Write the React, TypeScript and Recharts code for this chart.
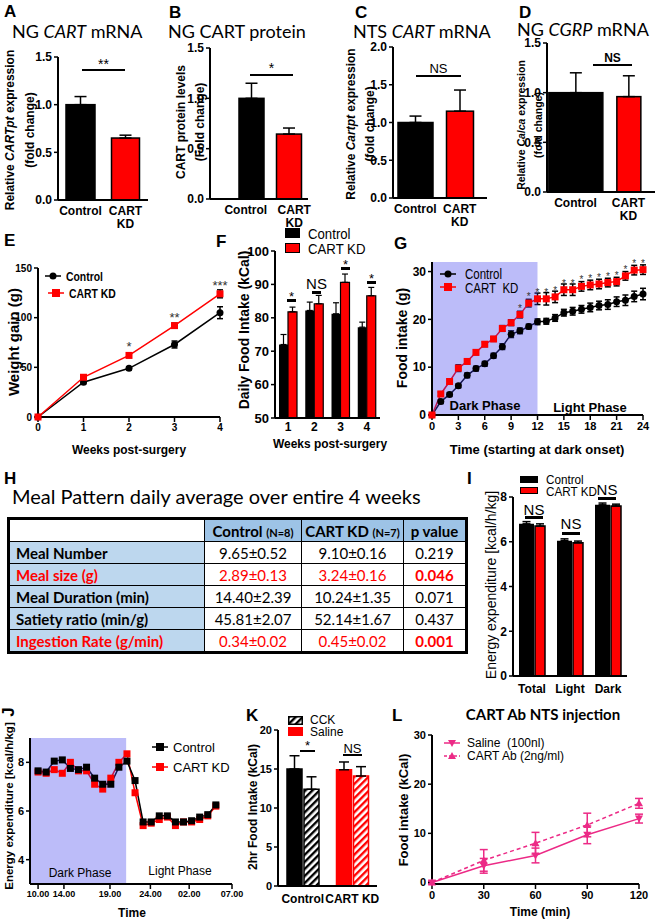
import React from "react";
import {
  BarChart,
  Bar,
  LineChart,
  Line,
  XAxis,
  YAxis,
  ErrorBar,
  Cell,
  ReferenceArea,
  LabelList,
} from "recharts";

const FONT = '"Liberation Sans", Arial, sans-serif';
const TF = 'Lato, "Open Sans", sans-serif';
const RED = "#ff0000";
const PINK = "#ec2a86";

// A-D: fold change
const abCats = ["Control", "CART KD"];
const aMean = [1.0, 0.65];
const aErr = [0.085, 0.03];
const bMean = [1.0, 0.645];
const bErr = [0.15, 0.06];
const cMean = [1.0, 1.15];
const cErr = [0.085, 0.28];
const dMean = [1.0, 0.96];
const dErr = [0.2, 0.21];
const barFills = ["#000000", RED];
const ticks15 = [0, 0.5, 1, 1.5];
const ticks20 = [0, 0.5, 1, 1.5, 2];

// E: weight gain
const eWeeks = [0, 1, 2, 3, 4];
const eCtrl = [0, 35, 49, 73, 105];
const eCtrlErr = [0, 1.5, 1.5, 3.5, 6];
const eKd = [0, 40, 62, 92, 124];
const eKdErr = [0, 1.5, 2, 2.5, 4];
const eStars = ["", "", "*", "**", "***"];

// F: daily food intake
const fWeeks = ["1", "2", "3", "4"];
const fCtrl = [72, 82.2, 81.2, 77.2];
const fCtrlErr = [3, 2.5, 3.3, 1.5];
const fKd = [81.8, 84.2, 90.6, 86.6];
const fKdErr = [1.4, 2.5, 2.5, 2.5];

// G: cumulative food intake
const gHours = [0, 1, 2, 3, 4, 5, 6, 7, 8, 9, 10, 11, 12, 13, 14, 15, 16, 17, 18, 19, 20, 21, 22, 23, 24];
const gCtrl = [0, 2.8, 4.3, 6.1, 8.3, 9.7, 10.7, 12.4, 14.3, 16.9, 17.6, 18.5, 19.5, 19.6, 20.3, 21.4, 21.7, 22.1, 22.5, 22.9, 23.1, 23.7, 24.0, 24.8, 25.3];
const gCtrlErr = [0, 0.4, 0.4, 0.4, 0.5, 0.5, 0.5, 0.5, 0.6, 0.7, 0.6, 0.5, 0.6, 0.6, 0.7, 0.7, 0.8, 0.8, 0.9, 0.9, 1.0, 1.0, 1.1, 1.1, 1.2];
const gKd = [0, 4.4, 7.0, 9.8, 11.2, 13.1, 14.8, 15.9, 18.1, 19.3, 21.0, 23.4, 24.3, 24.3, 24.7, 26.2, 26.2, 26.9, 27.2, 27.4, 27.7, 27.9, 29.1, 30.3, 30.4];
const gKdErr = [0, 0.4, 0.5, 0.7, 0.5, 0.5, 0.5, 0.5, 0.6, 0.6, 0.7, 0.8, 1.2, 1.3, 1.2, 1.2, 1.2, 1.0, 1.0, 1.0, 0.9, 0.9, 0.9, 1.0, 1.0];
const gStars = ["", "", "", "", "", "", "", "", "", "", "*", "*", "*", "*", "*", "*", "*", "*", "*", "*", "*", "*", "*", "*", "*"];
const gTicks = [0, 3, 6, 9, 12, 15, 18, 21, 24];

// H: meal pattern table
const hRows = ["Meal Number", "Meal size (g)", "Meal Duration (min)", "Satiety ratio (min/g)", "Ingestion Rate (g/min)"];
const hCtrl = ["9.65±0.52", "2.89±0.13", "14.40±2.39", "45.81±2.07", "0.34±0.02"];
const hKd = ["9.10±0.16", "3.24±0.16", "10.24±1.35", "52.14±1.67", "0.45±0.02"];
const hP = ["0.219", "0.046", "0.071", "0.437", "0.001"];
const hSig = [false, true, false, false, true];

// I: energy expenditure
const iCats = ["Total", "Light", "Dark"];
const iCtrl = [6.8, 6.05, 7.65];
const iKd = [6.7, 5.95, 7.6];
const iErr = [0.1, 0.08, 0.08];

// J: energy expenditure time course
const jIdx = [0, 1, 2, 3, 4, 5, 6, 7, 8, 9, 10, 11, 12, 13, 14, 15, 16, 17, 18, 19, 20, 21, 22];
const jCtrl = [7.65, 7.6, 8.05, 8.1, 7.75, 7.7, 7.8, 7.35, 7.1, 7.1, 7.8, 8.05, 7.25, 5.55, 5.55, 5.8, 5.8, 5.55, 5.55, 5.6, 5.75, 5.85, 6.25];
const jKd = [7.6, 7.55, 7.7, 7.55, 8.0, 7.65, 7.65, 7.1, 6.9, 7.35, 8.0, 8.35, 6.75, 5.4, 5.5, 5.65, 5.75, 5.4, 5.55, 5.55, 5.65, 5.8, 6.2];
const jTicks = [0, 3.2, 8.9, 13.9, 18.7, 24];
const jTickLabels = ["10.00", "14.00", "19.00", "24.00", "02.00", "07.00"];

// K: 2hr food intake
const kCats = ["Control", "CART KD"];
const kSaline = [15.0, 14.9];
const kSalineErr = [1.7, 1.0];
const kCck = [12.4, 14.1];
const kCckErr = [1.6, 1.2];

// L: CART Ab injection
const lTime = [0, 30, 60, 90, 120];
const lSaline = [0, 3.4, 5.5, 9.7, 13.0];
const lSalineErr = [0.3, 1.5, 1.5, 1.8, 0.9];
const lAb = [0, 4.5, 8.0, 11.7, 16.1];
const lAbErr = [0.3, 2.2, 2.2, 2.4, 1.0];

const AX = { stroke: "#000", strokeWidth: 2 };
const TL = { stroke: "#000", strokeWidth: 1.5 };
const tk = (s: number) => ({ fontSize: s, fontWeight: 700, fill: "#000", fontFamily: FONT });

const frame = (ax: number, yTop: number, yBot: number, xRight: number, yW: number, xH: number, rp = 10) => {
  const pad = 10;
  return {
    style: { position: "absolute" as const, left: ax - yW, top: yTop - pad },
    width: xRight - ax + yW + rp,
    height: yBot - yTop + pad + xH,
    margin: { top: pad, right: rp, left: 0, bottom: 0 },
    yW,
    xH,
  };
};

const T = ({ x, y, s = 12, b = false, a = "l", c = "#000", f = FONT, sx = 1, st = {}, children }: any) => (
  <div
    style={{
      position: "absolute",
      left: x,
      top: y,
      fontSize: s,
      fontWeight: b ? 700 : 400,
      color: c,
      fontFamily: f,
      lineHeight: 1,
      whiteSpace: "nowrap",
      transformOrigin: a === "l" ? "left center" : "center center",
      transform: `translate(${a === "l" ? "0" : a === "c" ? "-50%" : "-100%"}, -50%) scaleX(${sx})`,
      ...st,
    }}
  >
    {children}
  </div>
);

const V = ({ x, y, s = 12, b = true, lh = 1.1, f = FONT, st = {}, children }: any) => (
  <div
    style={{
      position: "absolute",
      left: x,
      top: y,
      fontSize: s,
      fontWeight: b ? 700 : 400,
      fontFamily: f,
      lineHeight: lh,
      whiteSpace: "nowrap",
      textAlign: "center",
      transform: "translate(-50%, -50%) rotate(-90deg)",
      ...st,
    }}
  >
    {children}
  </div>
);

const Sig = ({ x1, x2, y, ty, text, s = 13, b = false, w = 2 }: any) => (
  <>
    <div style={{ position: "absolute", left: x1, top: y - w / 2, width: x2 - x1, height: w, background: "#000" }} />
    <T x={(x1 + x2) / 2} y={ty} s={s} b={b} a="c">
      {text}
    </T>
  </>
);

const SplitTick = (props: any) => {
  const { x, y, payload, index, shifts } = props;
  const words = String(payload.value).split(" ");
  const cx = x + (shifts ? shifts[index] : 0);
  return (
    <text x={cx} y={y} textAnchor="middle" fontSize={12} fontWeight={700} fontFamily={FONT} fill="#000">
      {words.map((w, i) => (
        <tspan key={i} x={cx} dy={i === 0 ? "0.6em" : "1.05em"}>
          {w}
        </tspan>
      ))}
    </text>
  );
};

const sq = (fill: string, s: number) => (p: any) => (
  <rect key={`s${p.index}`} x={p.cx - s / 2} y={p.cy - s / 2} width={s} height={s} fill={fill} />
);
const circ = (fill: string, r: number) => (p: any) => (
  <circle key={`c${p.index}`} cx={p.cx} cy={p.cy} r={r} fill={fill} />
);
const triUp = (fill: string) => (p: any) => (
  <path key={`u${p.index}`} d={`M${p.cx - 4},${p.cy + 3} L${p.cx + 4},${p.cy + 3} L${p.cx},${p.cy - 4} Z`} fill={fill} />
);
const triDown = (fill: string) => (p: any) => (
  <path key={`d${p.index}`} d={`M${p.cx - 4},${p.cy - 3} L${p.cx + 4},${p.cy - 3} L${p.cx},${p.cy + 4} Z`} fill={fill} />
);

function FoldBar({ fr, mean, err, max, ticks, widths, shifts, pl = 0, pr = 0 }: any) {
  const data = abCats.map((name, i) => ({ name, v: mean[i], e: [0, err[i]] }));
  const barShape = (p: any) => {
    const w = widths[p.index];
    return (
      <rect
        x={p.x + (p.width - w) / 2}
        y={p.y}
        width={w}
        height={p.height}
        fill={barFills[p.index]}
        stroke="#000"
        strokeWidth={1.5}
      />
    );
  };
  return (
    <div style={fr.style}>
      <BarChart width={fr.width} height={fr.height} margin={fr.margin} data={data}>
        <XAxis
          dataKey="name"
          tickLine={false}
          axisLine={AX}
          tick={<SplitTick shifts={shifts} />}
          height={fr.xH}
          padding={{ left: pl, right: pr }}
          interval={0}
        />
        <YAxis
          type="number"
          domain={[0, max]}
          ticks={ticks}
          width={fr.yW}
          axisLine={AX}
          tickLine={TL}
          tickSize={4}
          tick={tk(12)}
          tickFormatter={(v: number) => v.toFixed(1)}
        />
        <Bar dataKey="v" barSize={Math.max(...widths)} shape={barShape} isAnimationActive={false}>
          {data.map((d, i) => (
            <Cell key={d.name} fill={barFills[i]} />
          ))}
          <ErrorBar dataKey="e" width={6} stroke="#000" strokeWidth={1.5} />
        </Bar>
      </BarChart>
    </div>
  );
}

const LegendLine = ({ x, y, color, marker, dashed = false }: any) => (
  <svg style={{ position: "absolute", left: x, top: y - 6 }} width={18} height={12}>
    <line x1={1} y1={6} x2={17} y2={6} stroke={color} strokeWidth={1.5} strokeDasharray={dashed ? "3 2" : undefined} />
    {marker === "circle" && <circle cx={9} cy={6} r={3.5} fill={color} />}
    {marker === "square" && <rect x={5} y={2} width={8} height={8} fill={color} />}
    {marker === "up" && <path d="M5,9 L13,9 L9,2 Z" fill={color} />}
    {marker === "down" && <path d="M5,3 L13,3 L9,10 Z" fill={color} />}
  </svg>
);

const Box = ({ x, y, w, h, fill, stroke = "#000" }: any) => (
  <div style={{ position: "absolute", left: x, top: y, width: w, height: h, background: fill, border: `1.5px solid ${stroke}`, boxSizing: "border-box" }} />
);

export default function App() {
  const frA = frame(58, 57, 200, 148, 30, 36);
  const frB = frame(210, 48, 199, 308, 30, 36);
  const frC = frame(393, 47, 198, 487, 30, 36);
  const frD = frame(547, 43, 192, 655, 30, 36, 5);
  const frE = frame(38, 268, 417, 220, 28, 28);
  const frF = frame(275, 251, 418, 380, 32, 24);
  const frG = frame(432, 262, 415, 643, 26, 28);
  const frI = frame(513, 497, 676, 627, 22, 28);
  const frJ = frame(30, 738, 884, 232, 20, 26, 20);
  const frK = frame(278, 730, 886, 377, 24, 28);
  const frL = frame(432, 735, 884, 639, 26, 26);

  const eData = eWeeks.map((w, i) => ({ w, ctrl: eCtrl[i], ce: eCtrlErr[i], kd: eKd[i], ke: eKdErr[i], star: eStars[i] }));
  const fData = fWeeks.map((w, i) => ({ w, ctrl: fCtrl[i], ce: [0, fCtrlErr[i]], kd: fKd[i], ke: [0, fKdErr[i]] }));
  const gData = gHours.map((h, i) => ({ h, ctrl: gCtrl[i], ce: gCtrlErr[i], kd: gKd[i], ke: gKdErr[i], star: gStars[i] }));
  const iData = iCats.map((c, i) => ({ c, ctrl: iCtrl[i], kd: iKd[i], ce: [0, iErr[i]], ke: [0, iErr[i]] }));
  const jData = jIdx.map((t, i) => ({ t, ctrl: jCtrl[i], kd: jKd[i] }));
  const kData = kCats.map((c, i) => ({ c, sal: kSaline[i], se: [0, kSalineErr[i]], cck: kCck[i], ke: [0, kCckErr[i]] }));
  const lData = lTime.map((t, i) => ({ t, sal: lSaline[i], se: lSalineErr[i], ab: lAb[i], ae: lAbErr[i] }));

  const cell: React.CSSProperties = { border: "1.5px solid #000", height: 21, padding: "0 6px", whiteSpace: "nowrap" };

  return (
    <div style={{ position: "absolute", left: 0, top: 0, width: 660, height: 923, overflow: "hidden", background: "#fff", fontFamily: FONT }}>
      <svg width={0} height={0} style={{ position: "absolute" }}>
        <defs>
          <pattern id="hatchK" width="5" height="5" patternUnits="userSpaceOnUse" patternTransform="rotate(45)">
            <rect width="5" height="5" fill="#fff" />
            <rect width="2.4" height="5" fill="#000" />
          </pattern>
          <pattern id="hatchR" width="5" height="5" patternUnits="userSpaceOnUse" patternTransform="rotate(45)">
            <rect width="5" height="5" fill="#fff" />
            <rect width="2.4" height="5" fill={RED} />
          </pattern>
        </defs>
      </svg>

      {/* panel letters */}
      <T x={4} y={11} s={17} b>A</T>
      <T x={169} y={12} s={17} b>B</T>
      <T x={355} y={12} s={17} b>C</T>
      <T x={519} y={12} s={17} b>D</T>
      <T x={4} y={240} s={17} b>E</T>
      <T x={216} y={241} s={17} b>F</T>
      <T x={394} y={243} s={17} b>G</T>
      <T x={4} y={478} s={17} b>H</T>
      <T x={467} y={478} s={17} b>I</T>
      <V x={9} y={712} s={17}>J</V>
      <T x={246} y={715} s={17} b>K</T>
      <T x={392} y={715} s={17} b>L</T>

      {/* A-D */}
      <T x={12} y={31} s={18} f={TF}>NG <i>CART</i> mRNA</T>
      <T x={168} y={31} s={18} f={TF}>NG CART protein</T>
      <T x={353} y={31} s={18} f={TF}>NTS <i>CART</i> mRNA</T>
      <T x={517} y={29} s={18} f={TF}>NG <i>CGRP</i> mRNA</T>

      <V x={20} y={130} s={12} lh="20px">
        Relative <i>CARTpt</i> expression
        <br />
        (fold change)
      </V>
      <V x={191} y={122} s={12} lh="19px">
        CART protein levels
        <br />
        (Fold change)
      </V>
      <V x={361} y={124} s={12} lh="19px">
        Relative <i>Cartpt</i> expression
        <br />
        (fold change)
      </V>
      <V x={530} y={125} s={10.5} lh="17px">
        Relative <i>Calca</i> expression
        <br />
        (fold change)
      </V>

      <FoldBar fr={frA} mean={aMean} err={aErr} max={1.5} ticks={ticks15} widths={[29, 28]} />
      <FoldBar fr={frB} mean={bMean} err={bErr} max={1.5} ticks={ticks15} widths={[25, 25]} shifts={[-6, 5]} pl={23} />
      <FoldBar fr={frC} mean={cMean} err={cErr} max={2} ticks={ticks20} widths={[35, 27]} pr={5} />
      <FoldBar fr={frD} mean={dMean} err={dErr} max={1.5} ticks={ticks15} widths={[54, 24]} pl={2} />

      <Sig x1={82} x2={125} y={70} ty={64} text="**" s={14} />
      <Sig x1={250} x2={293} y={75} ty={68} text="*" s={14} />
      <Sig x1={416} x2={461} y={76} ty={68} text="NS" s={13} />
      <Sig x1={593} x2={632} y={65} ty={58} text="NS" s={12} b />

      {/* E */}
      <V x={14} y={342} s={15}>Weight gain (g)</V>
      <div style={frE.style}>
        <LineChart width={frE.width} height={frE.height} margin={frE.margin} data={eData}>
          <XAxis dataKey="w" type="number" domain={[0, 4]} ticks={eWeeks} axisLine={AX} tickLine={TL} tickSize={5} tick={tk(10)} height={frE.xH} />
          <YAxis type="number" domain={[0, 150]} ticks={[0, 50, 100, 150]} width={frE.yW} axisLine={AX} tickLine={TL} tickSize={4} tick={tk(10)} />
          <Line dataKey="ctrl" stroke="#000" strokeWidth={1.5} dot={circ("#000", 3.5)} activeDot={false} isAnimationActive={false}>
            <ErrorBar dataKey="ce" width={3} stroke="#000" strokeWidth={1.5} />
          </Line>
          <Line dataKey="kd" stroke={RED} strokeWidth={1.5} dot={sq(RED, 7)} activeDot={false} isAnimationActive={false}>
            <ErrorBar dataKey="ke" width={3} stroke="#000" strokeWidth={1.5} />
            <LabelList dataKey="star" position="top" offset={4} style={{ fontSize: 13, fill: "#333", fontFamily: FONT }} />
          </Line>
        </LineChart>
      </div>
      <LegendLine x={44} y={276} color="#000" marker="circle" />
      <T x={66} y={276} s={13} b sx={0.8}>Control</T>
      <LegendLine x={47} y={293} color={RED} marker="square" />
      <T x={69} y={293} s={13} b sx={0.8}>CART KD</T>
      <T x={129} y={449} s={13} b a="c" sx={0.92}>Weeks post-surgery</T>

      {/* F */}
      <V x={245} y={330} s={14}>Daily Food Intake (kCal)</V>
      <div style={frF.style}>
        <BarChart width={frF.width} height={frF.height} margin={frF.margin} data={fData} barGap={0}>
          <XAxis dataKey="w" tickLine={false} tickSize={2} axisLine={AX} tick={tk(12)} height={frF.xH} interval={0} />
          <YAxis type="number" domain={[50, 100]} ticks={[50, 60, 70, 80, 90, 100]} width={frF.yW} axisLine={AX} tickLine={TL} tickSize={4} tick={tk(13)} />
          <Bar dataKey="ctrl" fill="#000" barSize={9} isAnimationActive={false}>
            <ErrorBar dataKey="ce" width={3} stroke="#000" strokeWidth={1.2} />
          </Bar>
          <Bar dataKey="kd" fill={RED} stroke="#000" strokeWidth={1.2} barSize={9} isAnimationActive={false}>
            <ErrorBar dataKey="ke" width={3} stroke="#000" strokeWidth={1.2} />
          </Bar>
        </BarChart>
      </div>
      <Box x={285} y={228} w={15} h={10} fill="#000" />
      <T x={308} y={233} s={15} sx={0.88}>Control</T>
      <Box x={285} y={243} w={15} h={10} fill={RED} />
      <T x={308} y={248} s={15} sx={0.88}>CART KD</T>
      <Sig x1={287} x2={296} y={300} ty={296} text="*" s={13} w={3} />
      <Sig x1={312} x2={321} y={292} ty={283} text="NS" s={15} w={3} />
      <Sig x1={341} x2={350} y={268} ty={264} text="*" s={13} w={3} />
      <Sig x1={367} x2={376} y={282} ty={278} text="*" s={13} w={3} />
      <T x={330} y={443} s={13} b a="c" sx={0.92}>Weeks post-surgery</T>

      {/* G */}
      <V x={403} y={338} s={14}>Food intake (g)</V>
      <div style={frG.style}>
        <LineChart width={frG.width} height={frG.height} margin={frG.margin} data={gData}>
          <XAxis dataKey="h" type="number" domain={[0, 24]} ticks={gTicks} axisLine={AX} tickLine={TL} tickSize={5} tick={tk(11)} height={frG.xH} />
          <YAxis type="number" domain={[0, 32]} ticks={[0, 10, 20, 30]} width={frG.yW} axisLine={AX} tickLine={TL} tickSize={4} tick={tk(12)} />
          <Line dataKey="ctrl" stroke="#000" strokeWidth={1.5} dot={circ("#000", 3.5)} activeDot={false} isAnimationActive={false}>
            <ErrorBar dataKey="ce" width={3} stroke="#000" strokeWidth={1.5} />
          </Line>
          <Line dataKey="kd" stroke={RED} strokeWidth={1.5} dot={sq(RED, 7)} activeDot={false} isAnimationActive={false}>
            <ErrorBar dataKey="ke" width={3} stroke="#000" strokeWidth={1.5} />
            <LabelList dataKey="star" position="top" offset={3} style={{ fontSize: 10, fill: "#333", fontFamily: FONT }} />
          </Line>
          <ReferenceArea x1={0} x2={12} y1={0} y2={32} fill="#3f3fed" fillOpacity={0.35} stroke="none" zIndex={450} ifOverflow="visible" />
        </LineChart>
      </div>
      <LegendLine x={439} y={274} color="#000" marker="circle" />
      <T x={465} y={274} s={14} sx={0.82}>Control</T>
      <LegendLine x={439} y={287} color={RED} marker="square" />
      <T x={465} y={288} s={14} sx={0.82}>CART&nbsp; KD</T>
      <T x={485} y={405} s={13} b a="c">Dark Phase</T>
      <T x={590} y={407} s={13} b a="c">Light Phase</T>
      <T x={537} y={449} s={13} b a="c">Time (starting at dark onset)</T>

      {/* H */}
      <T x={12} y={496} s={20} f={TF}>Meal Pattern daily average over entire 4 weeks</T>
      <table
        style={{
          position: "absolute",
          left: 7,
          top: 517,
          width: 458,
          borderCollapse: "collapse",
          border: "3px solid #000",
          fontFamily: TF,
          fontSize: 15,
          tableLayout: "fixed",
        }}
      >
        <colgroup>
          <col style={{ width: 196 }} />
          <col style={{ width: 97 }} />
          <col style={{ width: 102 }} />
          <col style={{ width: 63 }} />
        </colgroup>
        <tbody>
          <tr>
            <td style={{ ...cell, background: "#fff" }} />
            <td style={{ ...cell, background: "#9dc3e6", fontWeight: 700, padding: "0 2px", textAlign: "center" }}>
              Control <span style={{ fontSize: 11 }}>(N=8)</span>
            </td>
            <td style={{ ...cell, background: "#9dc3e6", fontWeight: 700, padding: "0 2px", textAlign: "center" }}>
              CART KD <span style={{ fontSize: 11 }}>(N=7)</span>
            </td>
            <td style={{ ...cell, background: "#9dc3e6", fontWeight: 700, padding: "0 2px", textAlign: "center" }}>p value</td>
          </tr>
          {hRows.map((r, i) => {
            const col = hSig[i] ? RED : "#000";
            return (
              <tr key={r}>
                <td style={{ ...cell, background: "#bdd7ee", fontWeight: 700, color: col }}>{r}</td>
                <td style={{ ...cell, textAlign: "center", color: col }}>{hCtrl[i]}</td>
                <td style={{ ...cell, textAlign: "center", color: col }}>{hKd[i]}</td>
                <td style={{ ...cell, textAlign: "center", color: col, fontWeight: hSig[i] ? 700 : 400 }}>{hP[i]}</td>
              </tr>
            );
          })}
        </tbody>
      </table>

      {/* I */}
      <V x={492} y={585} s={14} b={false}>Energy expenditure [kcal/h/kg]</V>
      <div style={frI.style}>
        <BarChart width={frI.width} height={frI.height} margin={frI.margin} data={iData} barGap={1}>
          <XAxis dataKey="c" tickLine={false} axisLine={AX} tick={tk(12)} height={frI.xH} interval={0} />
          <YAxis type="number" domain={[0, 8]} ticks={[0, 2, 4, 6, 8]} width={frI.yW} axisLine={AX} tickLine={TL} tickSize={4} tick={tk(12)} />
          <Bar dataKey="ctrl" fill="#000" barSize={15} isAnimationActive={false}>
            <ErrorBar dataKey="ce" width={4} stroke="#000" strokeWidth={1.5} />
          </Bar>
          <Bar dataKey="kd" fill={RED} stroke="#000" strokeWidth={1.5} barSize={10} isAnimationActive={false}>
            <ErrorBar dataKey="ke" width={4} stroke="#000" strokeWidth={1.5} />
          </Bar>
        </BarChart>
      </div>
      <Box x={520} y={476} w={18} h={7} fill="#000" />
      <T x={546} y={479} s={13} sx={0.9}>Control</T>
      <Box x={520} y={487} w={18} h={7} fill={RED} />
      <T x={546} y={491} s={13} sx={0.9}>CART KD</T>
      <Sig x1={525} x2={543} y={517} ty={509} text="NS" s={15} w={3} />
      <Sig x1={562} x2={580} y={533} ty={523} text="NS" s={15} w={3} />
      <Sig x1={598} x2={616} y={498} ty={489} text="NS" s={15} w={3} />

      {/* J */}
      <V x={9} y={806} s={11.5}>Energy expenditure [kcal/h/kg]</V>
      <div style={frJ.style}>
        <LineChart width={frJ.width} height={frJ.height} margin={frJ.margin} data={jData}>
          <XAxis
            dataKey="t"
            type="number"
            domain={[-1, 24]}
            ticks={jTicks}
            tickFormatter={(v: number) => jTickLabels[jTicks.indexOf(v)]}
            axisLine={AX}
            tickLine={TL}
            tickSize={5}
            tick={tk(9)}
            height={frJ.xH}
            interval={0}
          />
          <YAxis type="number" domain={[3, 9]} ticks={[4, 6, 8]} width={frJ.yW} axisLine={AX} tickLine={TL} tickSize={4} tick={tk(11)} />
          <Line dataKey="kd" stroke={RED} strokeWidth={1.5} dot={sq(RED, 7)} activeDot={false} isAnimationActive={false} />
          <Line dataKey="ctrl" stroke="#000" strokeWidth={1.5} dot={sq("#000", 7)} activeDot={false} isAnimationActive={false} />
          <ReferenceArea x1={-1} x2={10.9} y1={3} y2={9} fill="#3f3fed" fillOpacity={0.35} stroke="none" zIndex={450} ifOverflow="visible" />
        </LineChart>
      </div>
      <LegendLine x={151} y={747} color="#000" marker="square" />
      <T x={173} y={747} s={13}>Control</T>
      <LegendLine x={151} y={767} color={RED} marker="square" />
      <T x={173} y={767} s={13}>CART KD</T>
      <T x={80} y={873} s={12} a="c">Dark Phase</T>
      <T x={180} y={871} s={12} a="c">Light Phase</T>
      <T x={132} y={913} s={12} b a="c">Time</T>

      {/* K */}
      <V x={254} y={807} s={12}>2hr Food Intake (kCal)</V>
      <div style={frK.style}>
        <BarChart width={frK.width} height={frK.height} margin={frK.margin} data={kData} barGap={2}>
          <XAxis dataKey="c" tickLine={false} axisLine={AX} tick={tk(12)} height={frK.xH} interval={0} />
          <YAxis type="number" domain={[0, 20]} ticks={[0, 5, 10, 15, 20]} width={frK.yW} axisLine={AX} tickLine={TL} tickSize={4} tick={tk(11)} />
          <Bar dataKey="sal" barSize={15} strokeWidth={1.5} isAnimationActive={false}>
            {kData.map((d, i) => (
              <Cell key={d.c} fill={barFills[i]} stroke={barFills[i]} />
            ))}
            <ErrorBar dataKey="se" width={5} stroke="#000" strokeWidth={1.5} />
          </Bar>
          <Bar dataKey="cck" barSize={15} strokeWidth={1.5} isAnimationActive={false}>
            {kData.map((d, i) => (
              <Cell key={d.c} fill={i === 0 ? "url(#hatchK)" : "url(#hatchR)"} stroke={barFills[i]} />
            ))}
            <ErrorBar dataKey="ke" width={5} stroke="#000" strokeWidth={1.5} />
          </Bar>
        </BarChart>
      </div>
      <svg style={{ position: "absolute", left: 288, top: 716 }} width={15} height={9}>
        <rect x={0.75} y={0.75} width={13.5} height={7.5} fill="url(#hatchK)" stroke="#000" strokeWidth={1.5} />
      </svg>
      <T x={310} y={720} s={12}>CCK</T>
      <Box x={288} y={727} w={15} h={9} fill={RED} stroke={RED} />
      <T x={310} y={732} s={12}>Saline</T>
      <Sig x1={300} x2={315} y={751} ty={745} text="*" s={13} w={1.5} />
      <Sig x1={343} x2={362} y={755} ty={748} text="NS" s={13} w={1.5} />

      {/* L */}
      <T x={543} y={714} s={15} b f={TF} a="c">CART Ab NTS injection</T>
      <V x={404} y={810} s={13}>Food intake (kCal)</V>
      <div style={frL.style}>
        <LineChart width={frL.width} height={frL.height} margin={frL.margin} data={lData}>
          <XAxis dataKey="t" type="number" domain={[0, 120]} ticks={lTime} axisLine={AX} tickLine={TL} tickSize={5} tick={tk(11)} height={frL.xH} />
          <YAxis type="number" domain={[0, 30]} ticks={[0, 10, 20, 30]} width={frL.yW} axisLine={AX} tickLine={TL} tickSize={4} tick={tk(11)} />
          <Line dataKey="sal" stroke={PINK} strokeWidth={1.5} dot={triDown(PINK)} activeDot={false} isAnimationActive={false}>
            <ErrorBar dataKey="se" width={4} stroke={PINK} strokeWidth={1.5} />
          </Line>
          <Line dataKey="ab" stroke={PINK} strokeWidth={1.5} strokeDasharray="4 3" dot={triUp(PINK)} activeDot={false} isAnimationActive={false}>
            <ErrorBar dataKey="ae" width={4} stroke={PINK} strokeWidth={1.5} />
          </Line>
        </LineChart>
      </div>
      <LegendLine x={443} y={743} color={PINK} marker="down" />
      <T x={467} y={743} s={12}>Saline&nbsp; (100nl)</T>
      <LegendLine x={443} y={756} color={PINK} marker="up" dashed />
      <T x={467} y={756} s={12}>CART Ab (2ng/ml)</T>
      <T x={540} y={912} s={12} b a="c">Time (min)</T>
    </div>
  );
}
